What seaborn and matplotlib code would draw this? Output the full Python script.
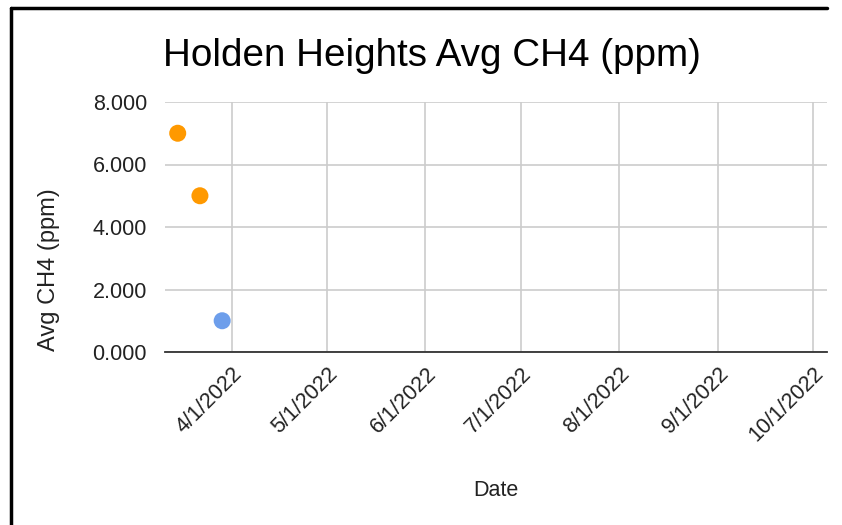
import matplotlib
matplotlib.use("Agg")
import matplotlib.pyplot as plt
from matplotlib.lines import Line2D
import seaborn as sns
import pandas as pd

# data
dates = ["2022-03-15", "2022-03-22", "2022-03-29"]
ch4 = [7.0, 5.0, 1.0]
group = ["high", "high", "low"]
tick_dates = ["2022-04-01", "2022-05-01", "2022-06-01", "2022-07-01",
              "2022-08-01", "2022-09-01", "2022-10-01"]
tick_labels = ["4/1/2022", "5/1/2022", "6/1/2022", "7/1/2022",
               "8/1/2022", "9/1/2022", "10/1/2022"]
y_ticks = [0, 2, 4, 6, 8]

df = pd.DataFrame({"Date": pd.to_datetime(dates), "CH4": ch4, "grp": group})

sns.set_style("white")
plt.rcParams["font.family"] = ["Liberation Sans", "DejaVu Sans"]

fig = plt.figure(figsize=(8.42, 5.25), dpi=100)
ax = fig.add_axes([165 / 842, 1 - 352 / 525, (827 - 165) / 842, 250 / 525])

sns.scatterplot(data=df, x="Date", y="CH4", hue="grp",
                palette={"high": "#ff9900", "low": "#6d9eeb"},
                s=150, edgecolor="none", legend=False, ax=ax, zorder=3)

ax.set_xlim(pd.Timestamp("2022-03-11"), pd.Timestamp("2022-10-05 10:00"))
ax.set_ylim(0, 8)
ax.set_yticks(y_ticks)
ax.set_yticklabels([f"{v:.3f}" for v in y_ticks])
ax.set_xticks(pd.to_datetime(tick_dates))
ax.set_xticklabels(tick_labels, rotation=45, ha="right", rotation_mode="anchor")

ax.grid(True, color="#cccccc", linewidth=1.2)
ax.set_axisbelow(True)
for side in ["left", "right", "top"]:
    ax.spines[side].set_visible(False)
ax.spines["bottom"].set_color("#333333")
ax.spines["bottom"].set_linewidth(1.3)
ax.tick_params(axis="both", length=0, labelsize=15.5, colors="#222222")
ax.tick_params(axis="y", pad=13)
ax.tick_params(axis="x", pad=8)

ax.set_xlabel("")
ax.set_ylabel("")
fig.text(496 / 842, 1 - 491 / 525, "Date", fontsize=15.5, color="#222222",
         ha="center", va="center")
fig.text(49 / 842, 1 - 270 / 525, "Avg CH4 (ppm)", fontsize=17, color="#222222",
         ha="center", va="center", rotation=90)
fig.text(163 / 842, 1 - 56 / 525, "Holden Heights Avg CH4 (ppm)",
         fontsize=27.8, color="#000000", va="center", ha="left")

# black frame from the screenshot (top and left)
fig.add_artist(Line2D([11 / 842, 827 / 842], [1 - 8 / 525, 1 - 8 / 525],
                      transform=fig.transFigure, color="black", linewidth=2.5))
fig.add_artist(Line2D([11 / 842, 11 / 842], [1 - 8 / 525, 0],
                      transform=fig.transFigure, color="black", linewidth=2.5))

fig.savefig("out.png", dpi=100)
